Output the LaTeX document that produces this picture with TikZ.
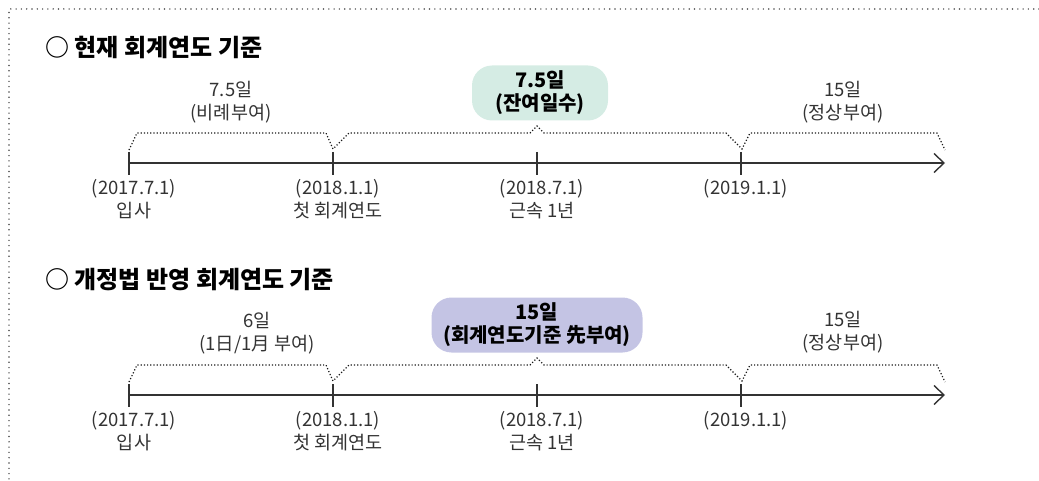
\documentclass[tikz,border=0pt]{standalone}
\usepackage{fontspec}
\setmainfont{Noto Sans CJK KR}
\usetikzlibrary{arrows.meta}

\definecolor{boxgreen}{RGB}{213,236,228}
\definecolor{boxpurple}{RGB}{196,196,228}

\tikzset{
  frame/.style={draw=black!70, line width=1.6pt, line cap=round, dash pattern=on 0pt off 5.3pt},
  axis/.style={draw=black!80, line width=1.4pt},
  brace/.style={draw=black!90, line width=1.2pt, dotted},
  title/.style={font=\fontsize{24pt}{28pt}\selectfont\bfseries, anchor=west, inner sep=0pt},
  lbl/.style={font=\fontsize{18.5pt}{23.5pt}\selectfont, text=black!80, align=center, inner sep=0pt},
  datelbl/.style={lbl, anchor=north},
  daybox/.style={font=\fontsize{20pt}{23pt}\selectfont\bfseries, align=center,
    rounded corners=20pt, minimum width=#1, minimum height=55pt, inner sep=0pt}
}

\begin{document}
\begin{tikzpicture}[x=1pt,y=-1pt]
  \useasboundingbox (0,0) rectangle (1039,481);
  \draw[frame] (1039,9) -- (9,9) -- (9,481);

  % two time lines, same ticks and dates
  \foreach \r/\dy in {1/0,2/232}{
    \foreach \i/\x in {0/129,1/333,2/537,3/741,4/945}
      \coordinate (t\r\i) at (\x,163+\dy);

    \draw[axis,-{Straight Barb[length=10pt,width=19pt]}] (t\r0) -- (t\r4);
    \foreach \i in {0,...,3}
      \draw[axis] ([yshift=11pt]t\r\i) -- ([yshift=-12pt]t\r\i);

    \draw[brace] ([yshift=13pt]t\r0) -- ++(8,-17) -- ++(189,0) -- ++(7,16)
      -- ++(16,-16) -- ++(181,0) -- ++(7,-7) -- ++(7,7) -- ++(182,0)
      -- ++(16,16) -- ++(8,-16) -- ++(187,0) -- ++(8,17);

    \foreach \i/\txt in {0/{(2017.7.1)\\입사},1/{(2018.1.1)\\첫 회계연도},
                         2/{(2018.7.1)\\근속 1년},3/{(2019.1.1)}}
      \node[datelbl] (d\r\i) at ([xshift=5pt,yshift=-16pt]t\r\i) {\txt};
  }

  % current fiscal year
  \node[title] (title1) at (45,47) {○ 현재 회계연도 기준};
  \node[lbl] (pro1) at (231,102) {7.5일\\(비례부여)};
  \node[daybox=136pt, fill=boxgreen] (rest1) at (540,93) {7.5일\\(잔여일수)};
  \node[lbl] (full1) at (843,102) {15일\\(정상부여)};

  % revised law
  \node[title] (title2) at (45,280) {○ 개정법 반영 회계연도 기준};
  \node[lbl] (pro2) at (257,333) {6일\\(1日/1月 부여)};
  \node[daybox=211pt, fill=boxpurple] (rest2) at (537,325) {15일\\(회계연도기준 先부여)};
  \node[lbl] (full2) at (843,332) {15일\\(정상부여)};
\end{tikzpicture}
\end{document}
